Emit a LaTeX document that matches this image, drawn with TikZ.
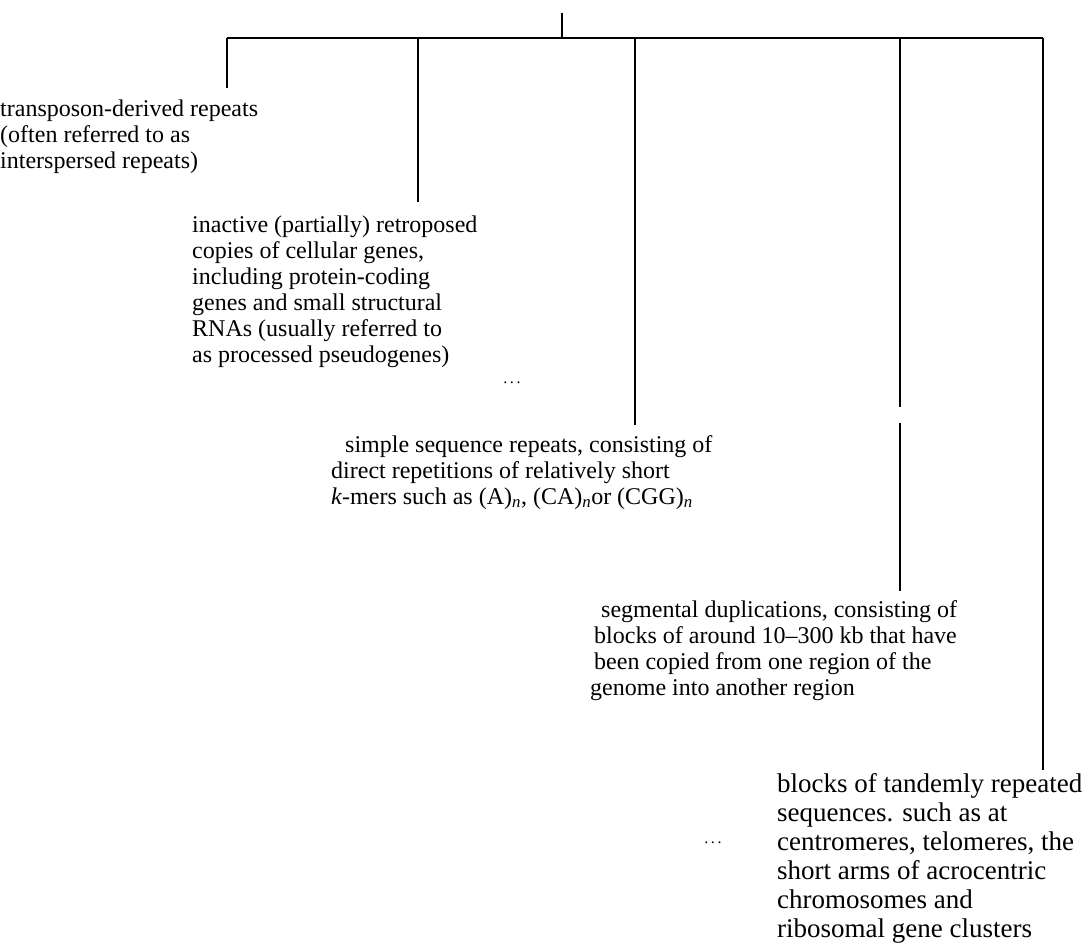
\documentclass[tikz,border=0pt]{standalone}
\usepackage{fontspec}
\setmainfont{Liberation Serif}
\begin{document}
\begin{tikzpicture}[x=1pt,y=-1pt,
  link/.style={line width=1.3pt,black},
  label/.style={anchor=north west,inner sep=0pt,align=left,font=\fontsize{24}{26}\selectfont},
  biglabel/.style={label,font=\fontsize{27}{29}\selectfont},
  dots/.style={inner sep=0pt,font=\fontsize{16}{16}\selectfont}]
\useasboundingbox (0,0) rectangle (1087,950);
% tree skeleton
\coordinate (root) at (562,13);
\coordinate (hub) at (562,38);
\coordinate (b1) at (227,38);
\coordinate (b2) at (418,38);
\coordinate (b3) at (635,38);
\coordinate (b4) at (900,38);
\coordinate (b5) at (1043,38);
\coordinate (e1) at (227,88);
\coordinate (e2) at (418,202);
\coordinate (e3) at (635,425);
\coordinate (e4a) at (900,407);
\coordinate (e4b) at (900,423);
\coordinate (e4) at (900,591);
\coordinate (e5) at (1043,770);
% labels
\node[label] (t1) at (0,100) {transposon-derived repeats\\(often referred to as\\interspersed repeats)};
\node[label] (t2) at (192,216) {inactive (partially) retroposed\\copies of cellular genes,\\including protein-coding\\genes and small structural\\RNAs (usually referred to\\as processed pseudogenes)};
\node[label] (t3) at (331,435) {\hspace{14pt}simple sequence repeats, consisting of\\direct repetitions of relatively short\\\textit{k}-mers such as (A)\textsubscript{\textit{n}}, (CA)\textsubscript{\textit{n}}or (CGG)\textsubscript{\textit{n}}};
\node[label] (t4) at (590,600) {\hspace{11pt}segmental duplications, consisting of\\\hspace{4pt}blocks of around 10--300 kb that have\\\hspace{4pt}been copied from one region of the\\genome into another region};
\node[biglabel] (t5) at (777,773) {blocks of tandemly repeated\\sequences. such as at\\centromeres, telomeres, the\\short arms of acrocentric\\chromosomes and\\ribosomal gene clusters};
\node[dots] (d1) at (512,383) {.\,.\,.};
\node[dots] (d2) at (713,843) {.\,.\,.};
% connectors
\draw[link] (root) -- (hub);
\draw[link] (b1) -- (b5);
\draw[link] (b1) -- (e1);
\draw[link] (b2) -- (e2);
\draw[link] (b3) -- (e3);
\draw[link] (b4) -- (e4a);
\draw[link] (e4b) -- (e4);
\draw[link] (b5) -- (e5);
\end{tikzpicture}
\end{document}
